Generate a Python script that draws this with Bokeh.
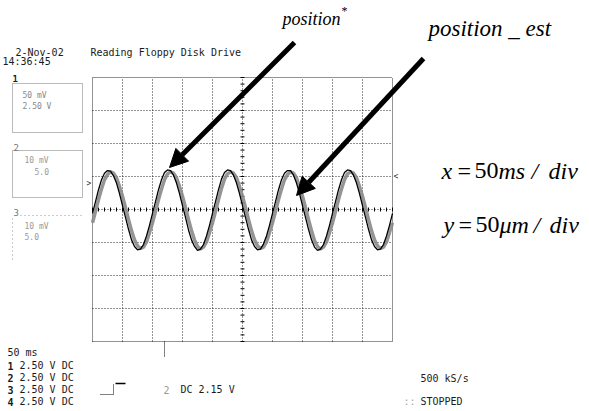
from bokeh.plotting import figure
from bokeh.models import Range1d, Label, Arrow, NormalHead
from bokeh.embed import file_html
from bokeh.resources import INLINE

time_ms = list(range(0, 505, 5))          # sample times, 50 ms/div, 10 div

position_ref = [
    -6, 12, 30, 45, 55, 59, 58, 51, 40, 24, 6, -12, -30, -46, -56, -61, -60, -53, -40, -24,
    -6, 12, 30, 45, 56, 60, 59, 52, 40, 24, 6, -12, -31, -46, -56, -62, -60, -53, -40, -24,
    -6, 12, 30, 46, 56, 60, 59, 52, 40, 24, 6, -12, -30, -46, -56, -61, -60, -52, -40, -24,
    -6, 12, 30, 45, 55, 59, 59, 52, 40, 24, 6, -12, -30, -46, -57, -62, -60, -53, -40, -24,
    -6, 12, 30, 45, 56, 60, 59, 52, 40, 24, 6, -12, -30, -46, -56, -61, -60, -53, -40, -24,
    -6]

position_est = [
    -20, -3, 15, 31, 45, 53, 57, 55, 48, 35, 20, 3, -15, -32, -46, -55, -59, -57, -49, -35,
    -20, -3, 15, 31, 45, 54, 57, 55, 48, 35, 20, 3, -15, -32, -46, -56, -60, -57, -49, -35,
    -20, -3, 15, 32, 46, 54, 57, 55, 48, 35, 20, 3, -15, -32, -46, -55, -59, -57, -49, -35,
    -20, -3, 15, 31, 45, 53, 57, 55, 48, 35, 20, 3, -15, -32, -47, -56, -60, -57, -49, -35,
    -20, -3, 15, 31, 45, 54, 57, 55, 48, 35, 20, 3, -15, -32, -46, -55, -59, -57, -49, -35,
    -20]

x_divs = [0, 50, 100, 150, 200, 250, 300, 350, 400, 450, 500]      # ms
y_divs = [-200, -150, -100, -50, 0, 50, 100, 150, 200]             # um

# ---------------- geometry ----------------
W, H = 589, 411
def X(px):  # picture pixel -> ms
    return (px - 92) * 500.0 / 300.0
def Y(py):  # picture pixel -> um
    return (209 - py) * 400.0 / 264.0

p = figure(width=W, height=H, output_backend="svg", toolbar_location=None,
           x_range=Range1d(X(0), X(W)), y_range=Range1d(Y(H), Y(0)),
           x_axis_type=None, y_axis_type=None, min_border=0)
p.outline_line_color = None
p.background_fill_color = "white"
p.border_fill_color = "white"

# graticule
for t in x_divs:
    edge = t in (x_divs[0], x_divs[-1])
    p.segment(x0=[t], y0=[y_divs[0]], x1=[t], y1=[y_divs[-1]], line_color="black",
              line_width=1, line_dash="1 1" if edge else "1 2", line_alpha=0.85)
for v in y_divs:
    edge = v in (y_divs[0], y_divs[-1])
    p.segment(x0=[x_divs[0]], y0=[v], x1=[x_divs[-1]], y1=[v], line_color="black",
              line_width=1, line_dash="1 1" if edge else "1 2", line_alpha=0.85)

# minor ticks on the centre lines
minor_t = [t for t in range(0, 501, 10)]
minor_v = [v for v in range(-200, 201, 10)]
p.segment(x0=minor_t, y0=[-3] * len(minor_t), x1=minor_t, y1=[3] * len(minor_t),
          line_color="black", line_width=1)
p.segment(x0=[250 - 3.3] * len(minor_v), y0=minor_v, x1=[250 + 3.3] * len(minor_v), y1=minor_v,
          line_color="black", line_width=1)

# traces
p.line(time_ms, position_est, line_color="#8a8a8a", line_width=3.5, line_alpha=0.9)
p.line(time_ms, position_ref, line_color="black", line_width=1.3)

# trigger position marker below graticule
p.line([X(164), X(164)], [Y(341), Y(356)], line_color="black", line_dash="1 1", line_width=1)

# channel boxes at left
def box(x0, y0, x1, y1):
    p.line([X(x0), X(x1), X(x1), X(x0), X(x0)], [Y(y0), Y(y0), Y(y1), Y(y1), Y(y0)],
           line_color="#777777", line_dash="1 1", line_width=1)
box(12, 83, 82, 132)
box(12, 150, 82, 197)
p.line([X(20), X(82)], [Y(215), Y(215)], line_color="#999999", line_dash="1 3", line_width=1)
p.line([X(12), X(12)], [Y(218), Y(262)], line_color="#999999", line_dash="1 3", line_width=1)

# trigger step symbol
p.line([X(100), X(113), X(113)], [Y(394), Y(394), Y(384)], line_color="black",
       line_dash="1 1", line_width=1)
p.line([X(115), X(125)], [Y(383), Y(383)], line_color="black", line_width=1.5)

MONO = "DejaVu Sans Mono"
def mono(px, py, txt, size="10px", color="#1a1a1a", style="normal"):
    p.add_layout(Label(x=X(px), y=Y(py), text=txt, text_font=MONO, text_font_size=size,
                       text_color=color, text_baseline="middle", text_align="left",
                       text_font_style=style))

mono(15, 52, "2-Nov-02")
mono(2, 61, "14:36:45")
mono(90, 52, "Reading Floppy Disk Drive")
mono(12, 78, "1", size="9px", style="bold")
mono(22, 95, "50 mV", size="8px", color="#888888")
mono(22, 106, "2.50 V", size="8px", color="#888888")
mono(13, 147, "2", size="9px", color="#777777")
mono(24, 160, "10 mV", size="8px", color="#999999")
mono(34, 171, "5.0", size="8px", color="#999999")
mono(13, 212, "3", size="9px", color="#777777")
mono(24, 226, "10 mV", size="8px", color="#999999")
mono(24, 236, "5.0", size="8px", color="#999999")
mono(86, 183, ">", size="8px", color="#333333")
mono(393, 176, "<", size="8px", color="#333333")

mono(7, 352, "50 ms")
rows = [365, 377, 389, 401]
for i, yy in enumerate(rows):
    mono(7, yy, str(i + 1), style="bold")
    mono(19, yy, "2.50 V DC")
mono(163, 389, "2", color="#999999")
mono(180, 389, "DC 2.15 V")
mono(420, 378, "500 kS/s")
mono(403, 401, "::", color="#aaaaaa")
mono(420, 401, "STOPPED")

SERIF = "Liberation Serif"
def serif(px, py, txt, size, style="italic"):
    p.add_layout(Label(x=X(px), y=Y(py), text=txt, text_font=SERIF, text_font_size=size,
                       text_color="black", text_baseline="alphabetic", text_align="left",
                       text_font_style=style))

serif(282, 18, "position", "18px")
serif(341, 10, "*", "12px", style="normal")
serif(428, 28, "position _ est", "23px")

for (px, txt, st) in [(441, "x", "italic"), (457, "=", "normal"), (474, "50", "normal"),
                      (498, "ms", "italic"), (531, "/", "italic"), (548, "div", "italic")]:
    serif(px, 170, txt, "24px", style=st)
for (px, txt, st) in [(443, "y", "italic"), (458, "=", "normal"), (475, "50", "normal"),
                      (499, "\u03bcm", "italic"), (533, "/", "italic"), (549, "div", "italic")]:
    serif(px, 224, txt, "24px", style=st)

# arrows
for (xs, ys, xe, ye) in [(294, 42, 169, 167), (423, 58, 296, 195)]:
    p.add_layout(Arrow(end=NormalHead(size=18, fill_color="black", line_color="black"),
                       x_start=X(xs), y_start=Y(ys), x_end=X(xe), y_end=Y(ye),
                       line_width=5, line_color="black"))

open("out.html", "w").write(file_html(p, INLINE))
